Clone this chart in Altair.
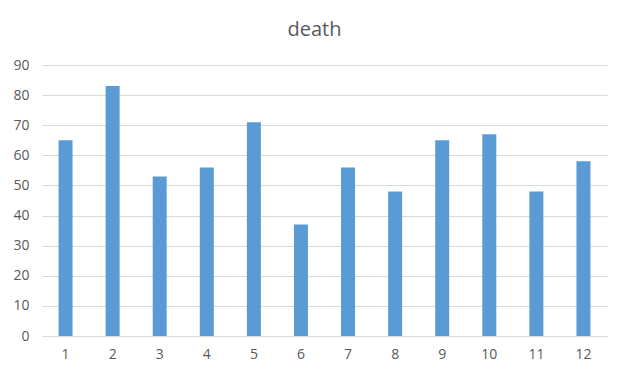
import altair as alt
import pandas as pd

months = [str(i) for i in range(1, 13)]
deaths = [65, 83, 53, 56, 71, 37, 56, 48, 65, 67, 48, 58]

df = pd.DataFrame({"month": months, "death": deaths})

FONT = "Open Sans"
GRAY = "#595959"

chart = (
    alt.Chart(df)
    .mark_bar(color="#5B9BD5", size=14)
    .encode(
        x=alt.X(
            "month:N",
            sort=months,
            title=None,
            scale=alt.Scale(paddingInner=0.7, paddingOuter=0.35),
            axis=alt.Axis(
                labelAngle=0,
                ticks=False,
                domain=True,
                domainColor="#D9D9D9",
                labelPadding=11,
                labelFont=FONT,
                labelFontSize=14,
                labelColor=GRAY,
            ),
        ),
        y=alt.Y(
            "death:Q",
            title=None,
            scale=alt.Scale(domain=[0, 90]),
            axis=alt.Axis(
                values=list(range(0, 100, 10)),
                ticks=False,
                domain=False,
                gridColor="#D9D9D9",
                labelPadding=13,
                labelFont=FONT,
                labelFontSize=14,
                labelColor=GRAY,
            ),
        ),
    )
    .properties(
        width=565,
        height=271,
        title=alt.Title(
            "death",
            font=FONT,
            fontSize=20,
            fontWeight="normal",
            color=GRAY,
            anchor="middle",
            dx=-10,
            offset=18,
        ),
        padding={"left": 34, "top": 57, "right": 6, "bottom": 26},
        autosize=alt.AutoSizeParams(type="none"),
    )
    .configure_view(stroke=None)
)

chart.save("out.html", embed_options={"renderer": "svg", "actions": False})
